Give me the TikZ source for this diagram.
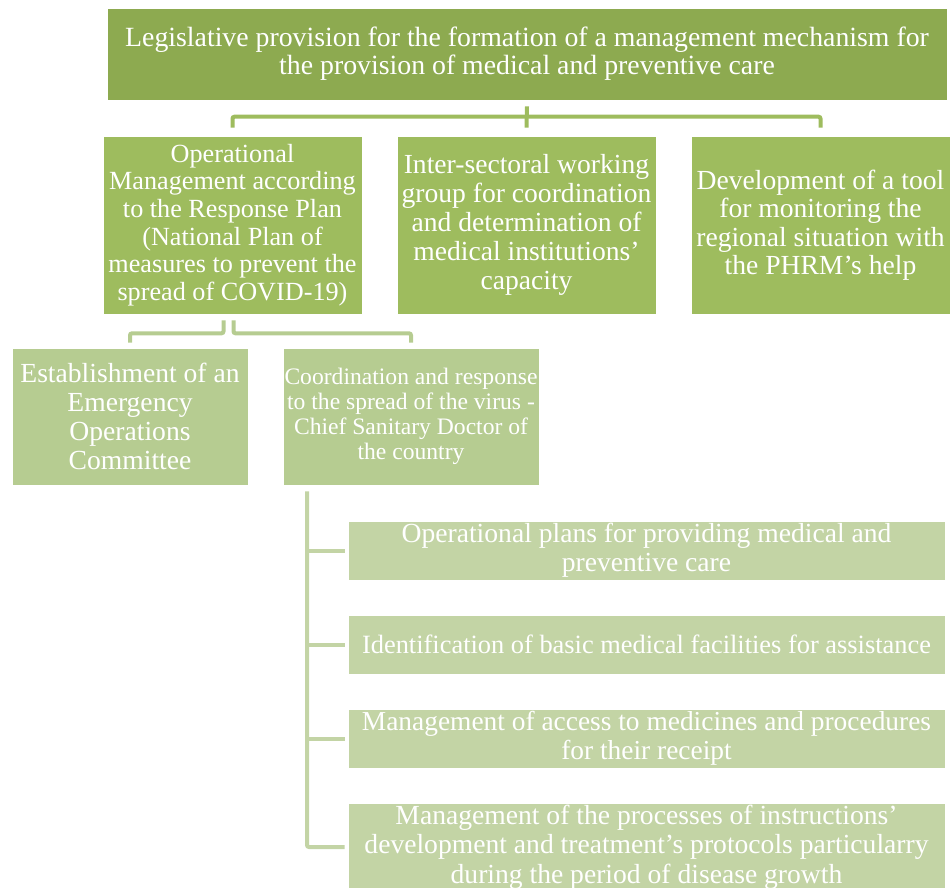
\documentclass[tikz,border=0pt]{standalone}
\usepackage{fontspec}
\setmainfont{Liberation Serif}
\usetikzlibrary{positioning}
\definecolor{leafA}{HTML}{8DAA50}
\definecolor{leafB}{HTML}{9EBC5E}
\definecolor{leafC}{HTML}{B6CC91}
\definecolor{leafD}{HTML}{C3D4A5}

\begin{document}
\begin{tikzpicture}[x=1pt, y=-1pt,
    box/.style={fill=#1, draw=white, line width=0.6pt, text=white, align=center, inner sep=0pt},
    link/.style={draw=#1, line width=4pt, rounded corners=2pt}]
    \useasboundingbox (0,0) rectangle (950,888);
    \node[box=leafA, minimum width=840, minimum height=92, font=\fontsize{27.8}{28}\selectfont] (law) at (527,54)
        {Legislative provision for the formation of a management mechanism for\\the provision of medical and preventive care};
    \node[box=leafB, minimum width=259, minimum height=178, font=\fontsize{26.2}{27.6}\selectfont] (oper) at (232.5,225)
        {Operational\\Management according\\to the Response Plan\\(National Plan of\\measures to prevent the\\spread of COVID-19)};
    \node[box=leafB, minimum width=259, minimum height=178, font=\fontsize{27.6}{29}\selectfont] (group) at (526.5,225)
        {Inter-sectoral working\\group for coordination\\and determination of\\medical institutions’\\capacity};
    \node[box=leafB, minimum width=259, minimum height=178, font=\fontsize{27.6}{28.5}\selectfont] (tool) at (820.5,225)
        {Development of a tool\\for monitoring the\\regional situation with\\the PHRM’s help};
    \node[box=leafC, minimum width=236, minimum height=137, font=\fontsize{27.6}{29}\selectfont] (comm) at (130,416.5)
        {Establishment of an\\Emergency\\Operations\\Committee};
    \node[box=leafC, minimum width=256, minimum height=137, font=\fontsize{23.6}{25}\selectfont] (chief) at (411,416.5)
        {Coordination and response\\to the spread of the virus -\\Chief Sanitary Doctor of\\the country};
    \node[box=leafD, minimum width=597, minimum height=59, font=\fontsize{27.6}{29}\selectfont] (plans) at (646.5,550.5)
        {Operational plans for providing medical and\\preventive care};
    \node[box=leafD, minimum width=597, minimum height=59, font=\fontsize{26.4}{29}\selectfont] (basic) at (646.5,644.5)
        {Identification of basic medical facilities for assistance};
    \node[box=leafD, minimum width=597, minimum height=59, font=\fontsize{27.4}{29}\selectfont] (access) at (646.5,738.5)
        {Management of access to medicines and procedures\\for their receipt};
    \node[box=leafD, minimum width=597, minimum height=88, font=\fontsize{27.6}{29.5}\selectfont] (proto) at (646.5,847)
        {Management of the processes of instructions’\\development and treatment’s protocols particularry\\during the period of disease growth};

    \draw[link=leafB] ([yshift=8pt]oper.north) |- ([yshift=19pt]group.north) -| ([yshift=8pt]tool.north);
    \draw[link=leafB] ([yshift=-6pt]law.south) -- ([yshift=8pt]group.north);
    \draw[link=leafC] ([xshift=-9pt,yshift=-6pt]oper.south) -- ++(0,13) -| ([yshift=5pt]comm.north);
    \draw[link=leafC] ([xshift=1pt,yshift=-6pt]oper.south) -- ++(0,13) -| ([yshift=5pt]chief.north);
    \coordinate (trunk) at ([xshift=-104pt,yshift=-6pt]chief.south);
    \draw[link=leafD] (trunk) |- ([xshift=-3pt]proto.west);
    \foreach \n in {plans, basic, access}
        \draw[link=leafD] (trunk |- \n.west) -- ([xshift=-3pt]\n.west);
\end{tikzpicture}
\end{document}
